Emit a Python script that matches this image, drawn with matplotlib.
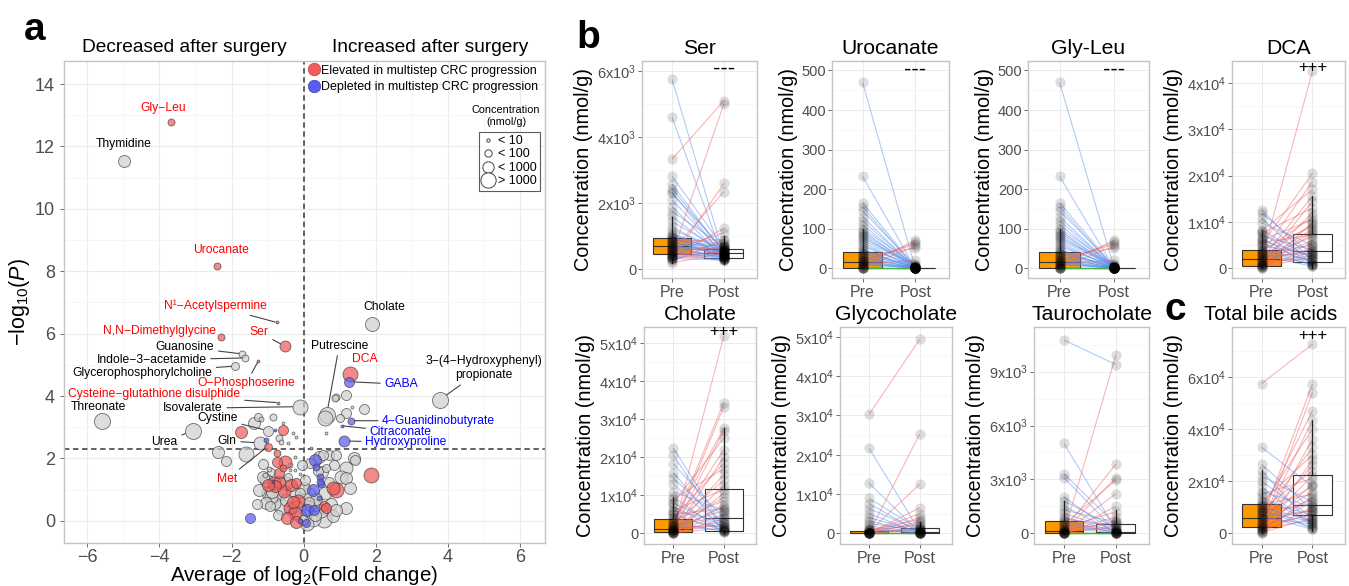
import matplotlib.pyplot as plt
import numpy as np
from matplotlib.lines import Line2D
from matplotlib.collections import LineCollection

plt.rcParams['font.family'] = ['Liberation Sans', 'DejaVu Sans']
plt.rcParams['mathtext.fontset'] = 'custom'
plt.rcParams['mathtext.rm'] = 'Liberation Sans'
plt.rcParams['mathtext.it'] = 'Liberation Sans:italic'
plt.rcParams['mathtext.bf'] = 'Liberation Sans:bold'

# ---------------- panel a: volcano ----------------
lab_names = ['Gly−Leu', 'Thymidine', 'Urocanate', 'N¹−Acetylspermine', 'N,N−Dimethylglycine',
             'Ser', 'Guanosine', 'Indole−3−acetamide', 'O−Phosphoserine', 'Glycerophosphorylcholine',
             'Cysteine−glutathione disulphide', 'Isovalerate', 'Threonate', 'Urea', 'Cystine',
             'Gln', 'Met', 'Cholate', 'Putrescine', 'DCA', 'GABA',
             '3−(4−Hydroxyphenyl)\npropionate', '4−Guanidinobutyrate', 'Citraconate', 'Hydroxyproline']
lab_fc = [-3.67, -4.98, -2.39, -0.75, -2.29, -0.51, -1.70, -1.63, -1.26, -1.90,
          -0.72, -0.10, -5.59, -3.07, -0.99, -1.20, -1.00, 1.89, 0.64, 1.28, 1.26,
          3.78, 1.31, 1.06, 1.11]
lab_logp = [12.79, 11.54, 8.18, 6.36, 5.89, 5.59, 5.35, 5.22, 5.12, 4.96,
            3.79, 3.66, 3.21, 2.89, 2.89, 2.50, 2.38, 6.32, 3.40, 4.70, 4.46,
            3.88, 3.21, 3.05, 2.56]
lab_conc = [42, 750, 42, 4, 42, 420, 42, 42, 4, 75,
            4, 4200, 7500, 7500, 240, 1300, 75, 2400, 7500, 4200, 240,
            7500, 42, 4, 420]
lab_group = ['up', 'none', 'up', 'up', 'up', 'up', 'none', 'none', 'up', 'none',
             'up', 'none', 'none', 'none', 'none', 'none', 'up', 'none', 'none', 'up', 'down',
             'none', 'down', 'down', 'down']
# label placement (text centre) and whether a leader segment is drawn
lab_tx = [-3.91, -4.99, -2.29, -2.45, -4.01, -1.23, -3.29, -4.22, -1.59, -4.48,
          -4.14, -3.07, -5.69, -3.86, -2.39, -2.12, -2.12, 2.23, 0.99, 1.69, 2.71,
          5.00, 3.75, 2.69, 2.84]
lab_ty = [13.23, 12.07, 8.68, 6.89, 6.07, 6.05, 5.57, 5.16, 4.41, 4.75,
          4.07, 3.61, 3.66, 2.54, 3.29, 2.56, 1.35, 6.87, 5.62, 5.19, 4.38,
          4.89, 3.21, 2.84, 2.52]
lab_seg = [False, False, False, True, False, True, True, True, True, True,
           True, True, False, True, True, True, True, False, True, False, True,
           True, True, True, True]

cloud_fc = [-1.27, -1.18, -0.85, -1.38, -1.73, -0.57, -0.67, -0.62, -0.44, -0.20,
            -0.57, -0.78, -0.74, -1.61, -2.15, -2.37, -1.13, -0.53, -0.39, -0.25,
            1.19, 0.91, 1.35, 1.68, 1.19, 0.61, 0.88, 1.01, 0.60, 1.44,
            1.86, 0.71, 0.55, 0.31, 0.17, 0.44, 0.91, 0.35, 0.63, 1.40,
            1.19, 1.05, 1.19, 0.91, 0.81, 1.19, 0.49, 0.45, 0.44, 0.58,
            0.81, 0.49, 0.17, 0.07, -0.11, -0.30, -0.48, -0.67, -0.81, -1.04,
            -1.13, -0.99, -0.67, -0.81, -0.94, -0.48, -0.30, -0.39, -0.25, -0.11,
            0.03, -0.11, -0.02, 0.31, 0.31, -1.50, -1.08, -0.67, -0.44, -0.39,
            -0.25, -0.11, -0.57, -0.90, -0.86, 0.57, 0.07, 0.62, -0.88, -1.03,
            -0.80, 0.20, -0.30, 0.05, 0.25, 0.40, -0.20, 0.10, -1.05, 0.15,
            -0.90, -0.60, -0.20, 0.15, 0.35, 0.60, 0.75, -0.35, -0.55, 0.00,
            -0.15, 0.25, -0.45, -0.70, 0.90, -1.25, -1.30, 0.50, 0.85, 1.30,
            -0.05, -0.75, -1.00, 0.30, -0.20, 0.10, -0.35, 0.45, -0.95, 0.70]
cloud_logp = [3.34, 3.26, 3.32, 3.15, 2.86, 2.92, 2.65, 2.54, 2.51, 2.70,
              3.13, 2.92, 2.19, 2.15, 1.91, 2.22, 1.82, 1.90, 1.79, 2.06,
              4.04, 3.98, 3.66, 3.59, 3.45, 2.83, 3.93, 3.29, 3.30, 1.95,
              1.47, 2.12, 2.10, 1.96, 1.85, 2.06, 2.12, 1.74, 1.69, 2.01,
              1.69, 1.42, 1.37, 0.99, 1.05, 0.41, 1.19, 1.40, 0.73, 0.46,
              0.14, 0.30, 0.46, 0.73, 0.89, 0.99, 1.21, 1.26, 1.21, 1.31,
              1.41, 0.89, 0.89, 0.57, 0.46, 0.67, 0.62, 0.41, 0.25, 0.14,
              0.19, -0.02, 0.03, 0.19, 0.51, 0.09, 1.47, 1.53, 1.42, 1.62,
              1.62, 1.51, 1.69, 1.58, 1.26, 0.03, -0.07, 0.41, 0.94, 0.57,
              1.11, 2.35, 2.80, 1.30, 1.00, 1.60, 1.20, 0.35, 2.60, 0.60,
              0.75, 0.45, 0.45, 0.85, 0.70, 0.90, 0.55, 1.15, 0.95, 1.05,
              0.65, 0.05, 0.10, 0.20, 0.35, 1.00, 0.55, 1.55, 1.80, 1.05,
              1.80, 1.90, 1.15, 0.35, -0.05, -0.10, 0.30, 1.25, 1.65, 1.25]
cloud_conc = [75, 13, 42, 750, 750, 240, 42, 13, 4, 4,
              4, 4, 42, 4200, 240, 750, 240, 1330, 13, 4,
              240, 42, 4, 240, 240, 4, 42, 75, 4200, 240,
              4200, 240, 240, 750, 240, 750, 240, 42, 75, 750,
              1330, 1330, 750, 4200, 1330, 750, 42, 42, 13, 240,
              750, 1330, 240, 1330, 240, 1330, 1330, 750, 1330, 1330,
              750, 1330, 4200, 1330, 240, 750, 750, 1330, 1330, 750,
              1330, 13, 240, 750, 750, 240, 13, 240, 75, 4,
              4, 4, 42, 75, 4, 4200, 75, 240, 750, 750,
              750, 4, 4, 240, 750, 240, 240, 750, 13, 240,
              1330, 4200, 1330, 1330, 750, 1330, 750, 750, 1330, 750,
              1330, 4200, 750, 240, 750, 750, 240, 750, 240, 750,
              240, 240, 750, 240, 750, 1330, 13, 42, 13, 240]
cloud_group = ['none', 'none', 'none', 'none', 'up', 'up', 'none', 'none', 'none', 'none',
               'none', 'down', 'up', 'none', 'none', 'none', 'none', 'up', 'none', 'none',
               'none', 'none', 'none', 'none', 'none', 'none', 'none', 'none', 'none', 'none',
               'up', 'none', 'none', 'down', 'none', 'none', 'none', 'down', 'none', 'none',
               'none', 'none', 'none', 'up', 'up', 'none', 'down', 'down', 'down', 'up',
               'none', 'none', 'none', 'none', 'none', 'none', 'none', 'up', 'up', 'none',
               'none', 'none', 'none', 'none', 'none', 'none', 'up', 'up', 'up', 'none',
               'none', 'down', 'none', 'none', 'none', 'down', 'none', 'up', 'none', 'none',
               'none', 'none', 'up', 'none', 'down', 'none', 'down', 'up', 'none', 'none',
               'up', 'none', 'none', 'none', 'down', 'none', 'up', 'down', 'down', 'none',
               'none', 'none', 'none', 'none', 'none', 'none', 'none', 'up', 'up', 'none',
               'up', 'none', 'up', 'none', 'none', 'none', 'none', 'none', 'none', 'none',
               'none', 'up', 'up', 'down', 'up', 'none', 'none', 'down', 'none', 'none']

size_breaks = ['< 10', '< 100', '< 1000', '> 1000']
size_break_conc = [5, 50, 500, 5000]

# ---------------- panels b/c: paired data ----------------
ser_pre = [5750, 4600, 2820, 2580, 2440, 2330, 2300, 2100, 1900, 1750,
           1600, 1450, 1300, 1200, 1100, 1000, 950, 900, 850, 800,
           750, 700, 680, 650, 600, 560, 520, 3330, 450, 300,
           550, 350, 600, 250, 400, 300, 200, 380, 450,
           900, 820, 780, 720, 640, 580, 500, 470, 430, 400, 350, 330, 1050, 980, 860]
ser_post = [420, 300, 650, 480, 520, 380, 600, 450, 350, 700,
            420, 550, 380, 600, 450, 320, 500, 700, 400, 550,
            300, 480, 620, 350, 420, 300, 250, 5100, 5000, 2600,
            2350, 1250, 1100, 900, 700, 620, 480, 560, 800,
            600, 450, 700, 500, 560, 650, 420, 380, 520, 300, 450, 280, 550, 760, 900]
ser_pre_box = [200, 454, 700, 956, 1590]
ser_post_box = [150, 358, 498, 630, 1000]

uro_pre = [470, 232, 165, 155, 145, 130, 120, 110, 100, 95,
           90, 85, 75, 65, 55, 48, 42, 38, 30, 25,
           20, 15, 10, 8, 5, 15, 20, 2, 30, 10,
           0, 0, 0, 0, 0, 0, 45, 35, 28, 18, 12, 60, 70, 80]
uro_post = [0, 0, 3, 0, 5, 0, 2, 0, 8, 0,
            3, 0, 10, 0, 5, 0, 2, 0, 0, 1,
            0, 0, 0, 2, 70, 65, 60, 55, 50, 20,
            0, 0, 0, 0, 0, 0, 0, 4, 0, 0, 0, 0, 6, 0]
uro_pre_box = [0, 0, 15, 40, 100]
uro_post_box = [0, 0, 0, 1, 2]

gl_pre = list(uro_pre)
gl_post = list(uro_post)
gl_pre_box = [0, 0, 15, 40, 100]
gl_post_box = [0, 0, 0, 1, 2]

dca_pre = [1800, 5000, 3000, 8000, 2000, 500, 7500, 1000, 3500, 6000,
           200, 2500, 4000, 1500, 800, 300, 5500, 2200, 1200, 600,
           3000, 100, 1800, 400, 2600, 900, 150, 1400,
           12600, 11900, 10800, 9800, 8300, 7500, 7000, 6500, 6000, 5500,
           4800, 4200, 3800, 3200, 2800]
dca_post = [42500, 20500, 18700, 17000, 15500, 14500, 13000, 12000, 11000, 10500,
            9800, 9500, 9000, 8500, 8000, 7500, 7200, 6800, 6000, 5500,
            5000, 4500, 4000, 3500, 3200, 2800, 2500, 2000,
            1500, 3000, 800, 5000, 2000, 1000, 4000, 500, 2500, 1200,
            3000, 600, 1800, 900, 400]
dca_pre_box = [0, 450, 1930, 3960, 8300]
dca_post_box = [0, 1300, 3700, 7400, 15500]

cho_pre = [500, 2000, 1000, 3000, 500, 8000, 1500, 200, 4000, 9000,
           800, 2500, 300, 6000, 100, 1200, 3500, 200, 700, 5000,
           1800, 400, 2200, 100, 900, 300, 1500, 50,
           22500, 20600, 18300, 16000, 14500, 13000, 11000, 9600, 8000, 7000,
           6000, 5000, 4000, 3000, 2000]
cho_post = [51900, 34400, 33200, 27700, 27000, 25000, 22000, 20000, 18500, 17000,
            15500, 14000, 12500, 11500, 10500, 9500, 8500, 7500, 7000, 6500,
            6000, 5000, 4500, 3800, 3000, 2500, 2000, 1500,
            1500, 800, 4000, 500, 2500, 1000, 6000, 300, 1800, 500,
            3000, 700, 1500, 400, 800]
cho_pre_box = [0, 260, 1100, 3900, 9600]
cho_post_box = [0, 600, 4100, 11600, 27700]

gc_pre = [30300, 200, 500, 100, 300, 50, 800, 0, 200, 1000, 100, 0, 400, 0,
          21600, 12700, 8900, 7600, 6300, 5000, 4000, 3200, 2500, 1800, 1200, 900,
          0, 0, 0, 0, 0]
gc_post = [49400, 25300, 12500, 6500, 5000, 4000, 3500, 3000, 2500, 2000, 1500, 1200, 1000, 800,
           500, 300, 1000, 200, 700, 100, 400, 50, 800, 200, 0, 100,
           0, 0, 0, 0, 0]
gc_pre_box = [0, 0, 100, 500, 1200]
gc_post_box = [0, 100, 400, 1300, 3000]

tau_pre = [10760, 5000, 3300, 3100, 2000, 1800, 1500, 1300, 1100, 900,
           800, 700, 600, 500, 400, 300,
           0, 200, 100, 500, 50, 0, 300, 100, 0, 200, 50, 100,
           0, 0, 0, 0, 0, 0]
tau_post = [9400, 200, 500, 100, 0, 300, 50, 600, 200, 100,
            400, 0, 150, 50, 100, 0,
            9930, 3850, 3100, 2960, 2200, 1500, 1200, 900, 700, 600, 400, 300,
            0, 0, 0, 0, 0, 0]
tau_pre_box = [0, 0, 150, 700, 1800]
tau_post_box = [0, 0, 80, 520, 1300]

tba_pre = [57400, 5000, 2000, 8000, 3000, 10000, 1500, 6000, 12000, 800,
           4000, 9000, 2500, 15000, 500, 7000, 3500, 11000, 1000, 5500,
           2000, 8500, 300, 4500, 6500, 1200, 3000, 200, 2000,
           33000, 26500, 24000, 22000, 20000, 18000, 16000, 14000, 12500, 11000,
           10000, 9000, 8000, 7000, 6000]
tba_post = [72500, 57200, 53900, 47000, 43400, 40000, 36000, 33000, 30000, 28000,
            26000, 24000, 22000, 21000, 19000, 18000, 16000, 15000, 14000, 13000,
            12000, 11000, 10000, 9000, 8500, 8000, 7000, 6000, 5000,
            18000, 9000, 3000, 12000, 6000, 2500, 10000, 4000, 7000, 1800,
            5000, 2000, 4500, 1500, 3500]
tba_pre_box = [0, 2600, 5800, 11200, 24300]
tba_post_box = [1000, 7100, 10800, 22200, 43400]

W, H = 1349, 586
fig = plt.figure(figsize=(W / 100, H / 100), dpi=100)

GROUP_FILL = {'up': '#F25C5C', 'down': '#5C5CF2', 'none': '#D0D0D0'}
GROUP_TEXT = {'up': '#FF0000', 'down': '#0000FF', 'none': '#000000'}
GRID_MAJ = '#EBEBEB'
GRID_MIN = '#F4F4F4'
BORDER = '#C4C4C4'


def diam_px(c):
    return 4.0 * np.log10(np.maximum(c, 1)) + 0.5


def px_axes(l, t, r, b):
    return fig.add_axes([l / W, (H - b) / H, (r - l) / W, (b - t) / H])


def style_frame(ax):
    for s in ax.spines.values():
        s.set_color(BORDER)
        s.set_linewidth(1.0)
    ax.tick_params(colors='#555555', length=3, width=0.6)


# ---------- panel a ----------
axa = px_axes(64, 61, 545, 543)
style_frame(axa)
axa.set_xlim(-6.65, 6.7)
axa.set_ylim(-0.71, 14.74)
axa.set_xticks([-6, -4, -2, 0, 2, 4, 6])
axa.set_yticks([0, 2, 4, 6, 8, 10, 12, 14])
axa.set_xticks(np.arange(-5, 6, 2), minor=True)
axa.set_yticks(np.arange(1, 15, 2), minor=True)
axa.tick_params(which='minor', length=0)
axa.tick_params(labelsize=13, labelcolor='#4D4D4D')
axa.tick_params(axis='x', pad=1)
axa.grid(which='major', color=GRID_MAJ, lw=0.8)
axa.grid(which='minor', color=GRID_MIN, lw=0.6)
axa.set_axisbelow(True)
axa.axvline(0, color='#555555', ls=(0, (3, 2)), lw=1.3, zorder=1)
axa.axhline(2.3, color='#555555', ls=(0, (3, 2)), lw=1.3, zorder=1)

all_fc = np.array(cloud_fc + lab_fc)
all_p = np.array(cloud_logp + lab_logp)
all_c = np.array(cloud_conc + lab_conc, dtype=float)
all_g = cloud_group + lab_group
order = sorted(range(len(all_g)), key=lambda i: ({'none': 0, 'up': 1, 'down': 2}[all_g[i]], -all_c[i]))
for i in order:
    d = diam_px(all_c[i])
    axa.scatter(all_fc[i], all_p[i], s=(d * 0.72) ** 2, facecolor=GROUP_FILL[all_g[i]],
                edgecolor='#3A3A3A', linewidth=0.6, alpha=0.72, zorder=3)

for k, name in enumerate(lab_names):
    rad = diam_px(lab_conc[k]) * 0.72 / 2
    arrow = dict(arrowstyle='-', color='#444444', lw=0.8, shrinkA=1, shrinkB=rad) if lab_seg[k] else None
    axa.annotate(name, xy=(lab_fc[k], lab_logp[k]), xytext=(lab_tx[k], lab_ty[k]),
                 textcoords='data', ha='center', va='center', fontsize=8.7,
                 color=GROUP_TEXT[lab_group[k]], arrowprops=arrow, zorder=4,
                 linespacing=1.25)

axa.set_xlabel('Average of log$_2$(Fold change)', fontsize=14.8, labelpad=-1)
axa.set_ylabel(r'$-$log$_{10}$($\mathit{P}$)', fontsize=15.5, labelpad=2)

col_handles = [Line2D([], [], ls='', marker='o', ms=9, mfc=GROUP_FILL['up'], mec='#C04040', mew=0.5),
               Line2D([], [], ls='', marker='o', ms=9, mfc=GROUP_FILL['down'], mec='#4040C0', mew=0.5)]
leg1 = axa.legend(col_handles, ['Elevated in multistep CRC progression', 'Depleted in multistep CRC progression'],
                  loc='upper left', bbox_to_anchor=(0.5, 1.0), frameon=False, fontsize=9,
                  handlelength=0.9, handletextpad=0.15, labelspacing=0.35, borderpad=0.2, borderaxespad=0.1)
axa.add_artist(leg1)
size_handles = [Line2D([], [], ls='', marker='o', ms=diam_px(c) * 0.72, mfc='white', mec='#444444', mew=0.7)
                for c in size_break_conc]
leg2 = axa.legend(size_handles, size_breaks, loc='upper right', bbox_to_anchor=(0.989, 0.853),
                  frameon=True, fancybox=False, fontsize=9, handlelength=1.0, handletextpad=0.25,
                  labelspacing=0.12, borderpad=0.25, borderaxespad=0)
leg2.get_frame().set_edgecolor('#333333')
leg2.get_frame().set_linewidth(0.8)
axa.text(0.919, 0.886, 'Concentration\n(nmol/g)', transform=axa.transAxes, ha='center', va='center',
         fontsize=7.8, linespacing=1.3)

fig.text(184 / W, 1 - 48 / H, 'Decreased after surgery', ha='center', va='center', fontsize=13.8)
fig.text(430 / W, 1 - 48 / H, 'Increased after surgery', ha='center', va='center', fontsize=13.8)


# ---------- panels b / c ----------
def fmt_sci(v):
    if v == 0:
        return '0'
    e = int(np.floor(np.log10(v)))
    m = v / 10 ** e
    return '%dx10$^{%d}$' % (round(m), e)


def paired(box_px, title, pre, post, pre_box, post_box, ylim, yticks, sci, mark, mark_y,
           title_x=0.5, title_size=15.2):
    ax = px_axes(*box_px)
    style_frame(ax)

    stats = []
    for bx in (pre_box, post_box):
        stats.append(dict(whislo=bx[0], q1=bx[1], med=bx[2], q3=bx[3], whishi=bx[4], fliers=[]))
    bp = ax.bxp(stats, positions=[1, 2], widths=0.75, showcaps=False, patch_artist=True,
                manage_ticks=False,
                boxprops=dict(edgecolor='#333333', linewidth=0.8),
                whiskerprops=dict(color='#222222', linewidth=0.9),
                medianprops=dict(color='#333333', linewidth=0.8), zorder=2)
    bp['boxes'][0].set_facecolor('#FF9900')
    bp['boxes'][1].set_facecolor('white')

    segs, cols = [], []
    for a, b in zip(pre, post):
        segs.append([(1, a), (2, b)])
        if b > a:
            cols.append((0.95, 0.36, 0.36, 0.45))
        elif b < a:
            cols.append((0.33, 0.55, 0.92, 0.45))
        else:
            cols.append((0.25, 0.70, 0.25, 0.9))
    ax.add_collection(LineCollection(segs, colors=cols, linewidths=0.8, zorder=3))
    ax.scatter(np.ones(len(pre)), pre, s=55, color='black', alpha=0.13, lw=0, zorder=4)
    ax.scatter(np.full(len(post), 2.0), post, s=55, color='black', alpha=0.13, lw=0, zorder=4)

    ax.set_xlim(0.42, 2.64)
    ax.set_ylim(*ylim)
    ax.set_xticks([1, 2])
    ax.set_xticklabels(['Pre', 'Post'])
    ax.set_yticks(yticks)
    ax.set_yticklabels([fmt_sci(v) if sci else str(int(v)) for v in yticks])
    step = yticks[1] - yticks[0]
    ax.set_yticks([v + step / 2 for v in yticks if v + step / 2 < ylim[1]], minor=True)
    ax.tick_params(which='minor', length=0)
    ax.tick_params(axis='y', labelsize=10.5, labelcolor='#4D4D4D', pad=1)
    ax.tick_params(axis='x', labelsize=11.5, labelcolor='#4D4D4D', pad=2)
    ax.grid(which='major', color=GRID_MAJ, lw=0.7)
    ax.grid(which='minor', axis='y', color=GRID_MIN, lw=0.5)
    ax.set_axisbelow(True)

    ax.set_title(title, fontsize=title_size, pad=5, x=title_x)
    ax.set_ylabel('Concentration (nmol/g)', fontsize=14.3, labelpad=3)
    if mark:
        ax.text(2, mark_y, mark, transform=ax.get_xaxis_transform(), ha='center', va='center',
                fontsize=16 if mark == '---' else 12, zorder=5)
    return ax


paired((642, 61, 757, 278), 'Ser', ser_pre, ser_post, ser_pre_box, ser_post_box,
       (-260, 6300), [0, 2000, 4000, 6000], True, '---', 0.963)
paired((832, 61, 949, 278), 'Urocanate', uro_pre, uro_post, uro_pre_box, uro_post_box,
       (-25, 524), [0, 100, 200, 300, 400, 500], False, '---', 0.959)
paired((1028, 61, 1149, 278), 'Gly-Leu', gl_pre, gl_post, gl_pre_box, gl_post_box,
       (-25, 524), [0, 100, 200, 300, 400, 500], False, '---', 0.959)
paired((1232, 61, 1345, 278), 'DCA', dca_pre, dca_post, dca_pre_box, dca_post_box,
       (-2100, 44700), [0, 10000, 20000, 30000, 40000], True, '+++', 0.97)
paired((644, 327, 756, 544), 'Cholate', cho_pre, cho_post, cho_pre_box, cho_post_box,
       (-2800, 54300), [0, 10000, 20000, 30000, 40000, 50000], True, '+++', 0.977)
paired((840, 327, 952, 544), 'Glycocholate', gc_pre, gc_post, gc_pre_box, gc_post_box,
       (-2700, 52500), [0, 10000, 20000, 30000, 40000, 50000], True, '', 0)
paired((1034, 327, 1149, 544), 'Taurocholate', tau_pre, tau_post, tau_pre_box, tau_post_box,
       (-600, 11490), [0, 3000, 6000, 9000], True, '', 0)
paired((1232, 327, 1345, 544), 'Total bile acids', tba_pre, tba_post, tba_pre_box, tba_post_box,
       (-4100, 79100), [0, 20000, 40000, 60000], True, '+++', 0.96, title_x=0.34, title_size=14.6)

fig.text(35 / W, 1 - 30 / H, 'a', fontsize=28, fontweight='bold', ha='center', va='center')
fig.text(588 / W, 1 - 38 / H, 'b', fontsize=28, fontweight='bold', ha='center', va='center')
fig.text(1175 / W, 1 - 310 / H, 'c', fontsize=28, fontweight='bold', ha='center', va='center')

fig.savefig('out.png', dpi=100)
